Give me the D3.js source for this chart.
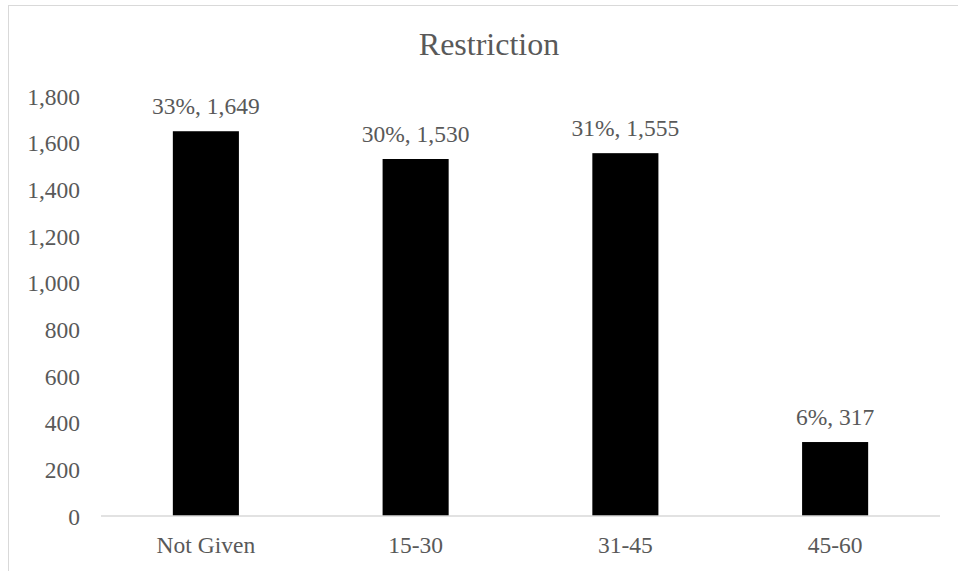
<!DOCTYPE html>
<html>
<head>
<meta charset="utf-8">
<script src="https://cdn.jsdelivr.net/npm/d3@7"></script>
<style>
  html, body { margin: 0; padding: 0; background: #fff; }
  svg { display: block; }
  text { font-family: "Liberation Serif", "Times New Roman", serif; fill: #595959; }
</style>
</head>
<body>
<svg id="chart" width="958" height="571"></svg>
<script>
// Restriction breakdown: counts and shares per group
const categories = ["Not Given", "15-30", "31-45", "45-60"];
const counts = [1649, 1530, 1555, 317];
const shares = ["33%", "30%", "31%", "6%"];
const yTicks = [0, 200, 400, 600, 800, 1000, 1200, 1400, 1600, 1800];
const title = "Restriction";

const width = 958, height = 571;
const margin = { left: 101, right: 18, top: 96, bottom: 55 };
const svg = d3.select("#chart");

// chart area frame
svg.append("rect")
  .attr("x", 8.5).attr("y", 5.5)
  .attr("width", width + 20).attr("height", height + 20)
  .attr("fill", "none").attr("stroke", "#d9d9d9").attr("stroke-width", 1);

const x = d3.scaleBand()
  .domain(categories)
  .range([margin.left, width - margin.right])
  .paddingInner(0.685)
  .paddingOuter(0.3425);

const y = d3.scaleLinear()
  .domain([0, 1800])
  .range([height - margin.bottom, margin.top]);

// title
svg.append("text")
  .attr("x", 489).attr("y", 55)
  .attr("text-anchor", "middle")
  .style("font-size", "32px")
  .text(title);

// y axis labels (no line, no ticks)
const yAxis = d3.axisLeft(y)
  .tickValues(yTicks)
  .tickFormat(d3.format(","))
  .tickSize(0)
  .tickPadding(0);
const gy = svg.append("g")
  .attr("transform", "translate(80,0)")
  .call(yAxis);
gy.select(".domain").remove();
gy.selectAll("text")
  .attr("dy", "0.34em")
  .style("font-size", "23.5px")
  .style("font-family", "'Liberation Serif', 'Times New Roman', serif")
  .attr("fill", "#595959");

// bars
svg.append("g").selectAll("rect")
  .data(categories)
  .join("rect")
  .attr("x", d => x(d))
  .attr("width", x.bandwidth())
  .attr("y", (d, i) => y(counts[i]))
  .attr("height", (d, i) => y(0) - y(counts[i]))
  .attr("fill", "#000");

// baseline / x axis
const xAxis = d3.axisBottom(x).tickSize(0).tickPadding(0);
const gx = svg.append("g")
  .attr("transform", `translate(0,${y(0)})`)
  .call(xAxis);
gx.select(".domain")
  .attr("stroke", "#d9d9d9")
  .attr("stroke-width", 1.5)
  .attr("d", `M${margin.left},0H${width - margin.right}`);
gx.selectAll("text")
  .attr("dy", null)
  .attr("y", 37)
  .style("font-size", "23.5px")
  .style("font-family", "'Liberation Serif', 'Times New Roman', serif")
  .attr("fill", "#595959");

// value labels
svg.append("g").selectAll("text")
  .data(categories)
  .join("text")
  .attr("x", d => x(d) + x.bandwidth() / 2)
  .attr("y", (d, i) => y(counts[i]) - 17)
  .attr("text-anchor", "middle")
  .style("font-size", "23.5px")
  .text((d, i) => `${shares[i]}, ${d3.format(",")(counts[i])}`);
</script>
</body>
</html>
